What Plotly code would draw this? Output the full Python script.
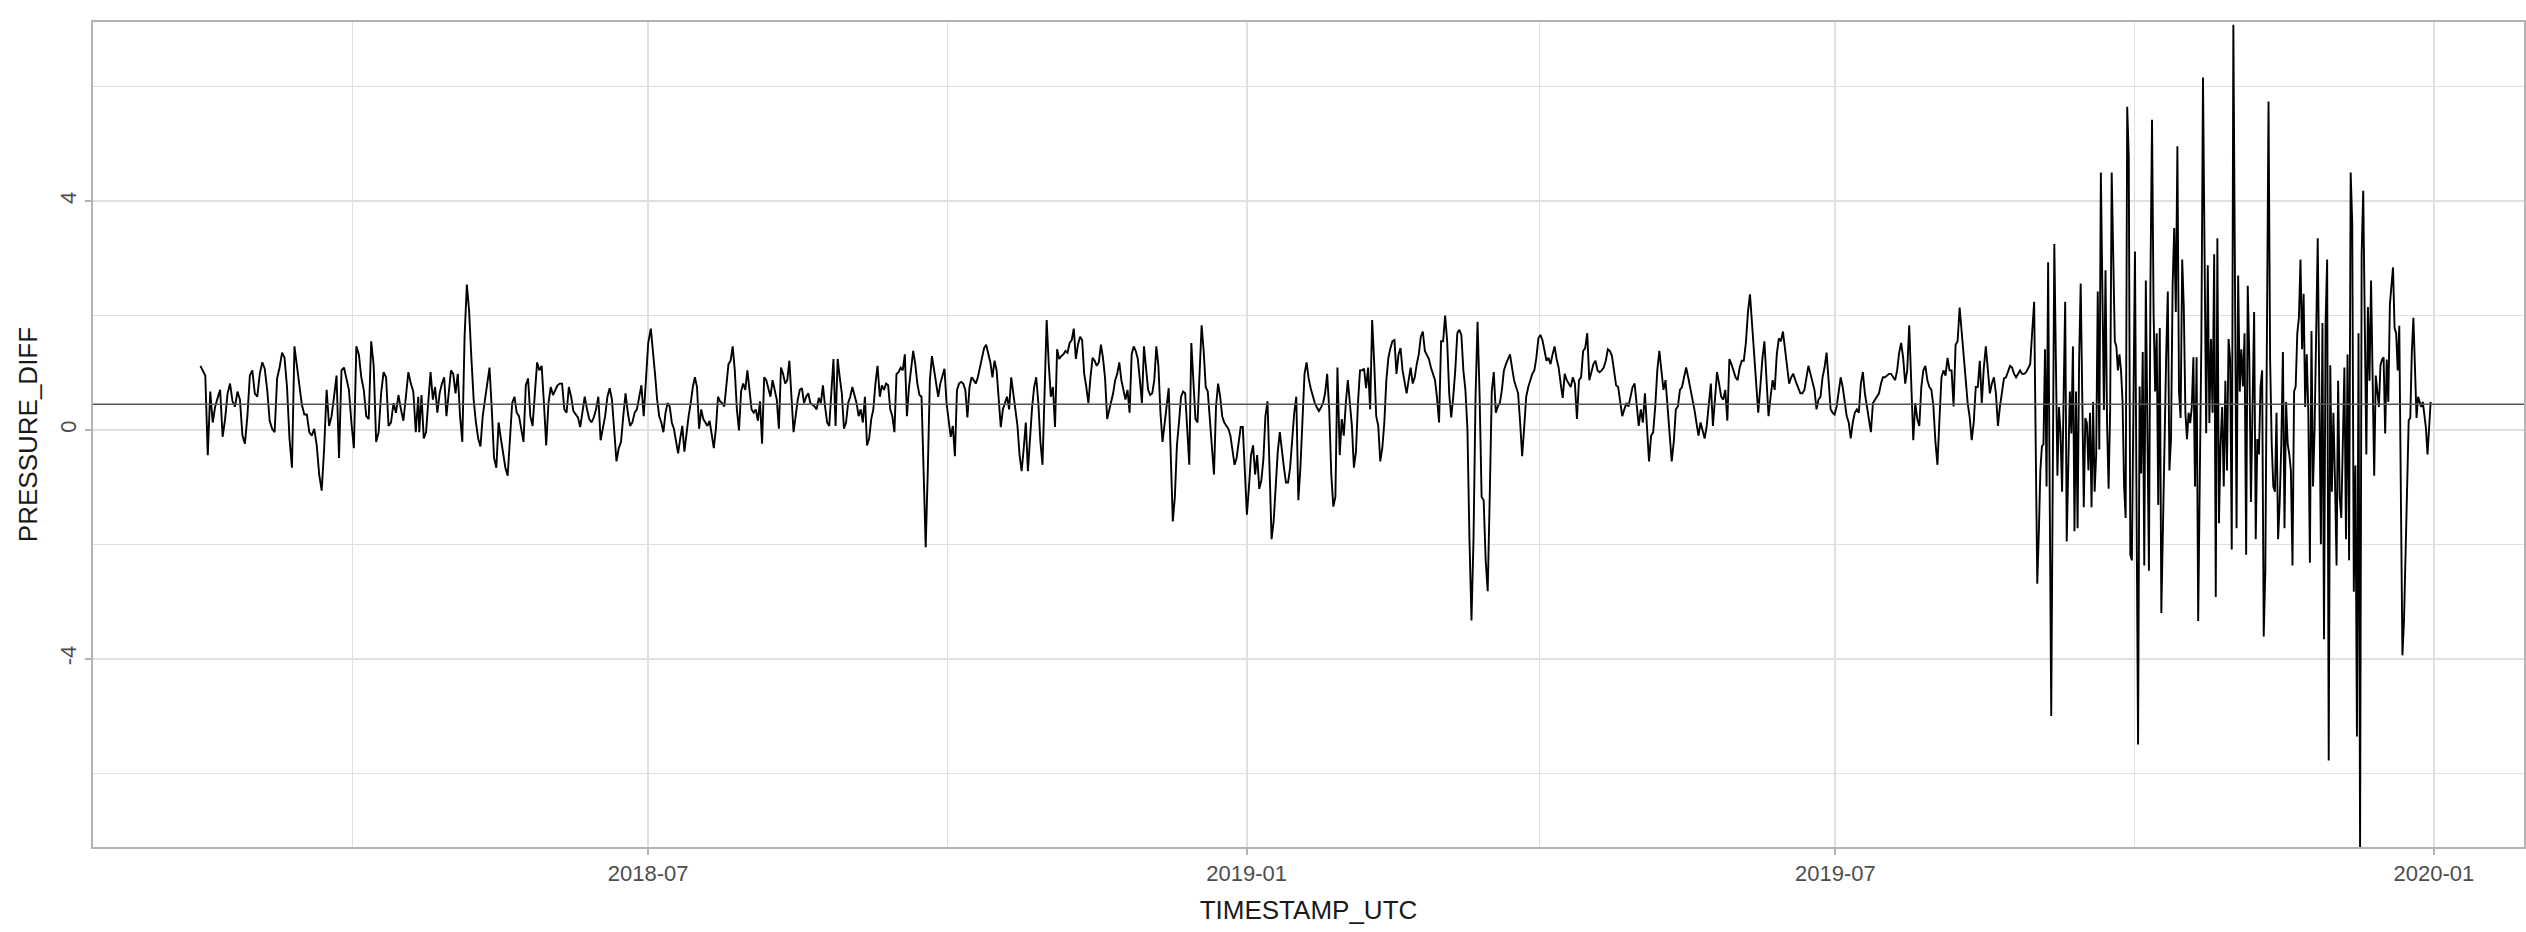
import numpy as np
import pandas as pd
import plotly.graph_objects as go

# ---- data ----
BASE_DATE = "2018-07-01"  # day offsets below are relative to this date

seg1_days = (-137.7, -70.7)
seg1 = [1.12, 1.04, 0.95, -0.44, 0.67, 0.13, 0.41, 0.56, 0.70, -0.12, 0.19, 0.64, 0.81, 0.50, 0.41, 0.67, 0.53, -0.10,
        -0.24, 0.24, 0.95, 1.04, 0.64, 0.58, 0.98, 1.18, 1.07, 0.70, 0.16, 0.02, -0.04, 0.90, 1.09, 1.35, 1.26, 0.75,
        -0.15, -0.66, 1.46, 1.12, 0.81, 0.44, 0.27, 0.27, -0.04, -0.10, 0.02, -0.27, -0.78, -1.06, -0.32, 0.70, 0.07,
        0.24, 0.58, 0.95, -0.49, 1.04, 1.09, 0.92, 0.70, 0.13, -0.32, 1.46, 1.32, 0.92, 0.70, 0.24, 0.19, 1.55, 1.12,
        -0.21, -0.04, 0.64, 1.01, 0.92, 0.07, 0.13, 0.47, 0.30, 0.61, 0.36, 0.16, 0.58, 1.01, 0.81, 0.67, -0.04, 0.58]

seg2_days = (-70.4, 0.0)
seg2 = [-0.04, 0.61, -0.15, -0.04, 0.50, 1.01, 0.53, 0.75, 0.30, 0.64, 0.81, 0.92, 0.24, 0.64, 1.04, 0.98, 0.64, 0.98,
        0.24, -0.21, 1.63, 2.54, 2.08, 1.26, 0.53, 0.13, -0.15, -0.29, 0.24, 0.53, 0.78, 1.09, 0.36, -0.49, -0.66, 0.13,
        -0.15, -0.44, -0.66, -0.80, -0.10, 0.47, 0.58, 0.30, 0.24, 0.02, -0.21, 0.78, 0.90, 0.24, 0.07, 0.64, 1.18,
        1.04, 1.12, 0.47, -0.27, 0.47, 0.75, 0.61, 0.70, 0.78, 0.81, 0.81, 0.36, 0.30, 0.75, 0.58, 0.33, 0.27, 0.22,
        0.05, 0.30, 0.58, 0.36, 0.19, 0.13, 0.22, 0.36, 0.58, -0.18, 0.02, 0.24, 0.58, 0.73, 0.53, -0.10, -0.55, -0.32,
        -0.21, 0.24, 0.64, 0.30, 0.07, 0.13, 0.30, 0.36, 0.58, 0.78, 0.24, 0.98, 1.52]

seg3_days = (0.8, 70.5)
seg3 = [1.77, 1.41, 0.98, 0.53, 0.24, 0.13, -0.04, 0.30, 0.47, 0.41, 0.13, 0.02, -0.21, -0.41, -0.15, 0.07, -0.38,
        -0.04, 0.24, 0.47, 0.75, 0.92, 0.75, 0.02, 0.36, 0.19, 0.13, 0.07, 0.16, -0.10, -0.32, 0.02, 0.58, 0.50, 0.47,
        0.41, 0.75, 1.15, 1.21, 1.46, 1.04, 0.36, -0.01, 0.67, 0.81, 0.70, 1.04, 0.64, 0.36, 0.30, 0.36, 0.16, 0.50,
        -0.24, 0.92, 0.87, 0.73, 0.58, 0.87, 0.70, 0.53, 0.02, 1.09, 0.98, 0.81, 0.87, 1.21, 0.58, -0.04, 0.24, 0.53,
        0.70, 0.73, 0.47, 0.58, 0.64, 0.47, 0.44, 0.41, 0.36, 0.56, 0.47, 0.78, 0.41, 0.13, 0.07, 0.58, 1.24, 0.07,
        1.24, 0.92, 0.64, 0.02, 0.13, 0.47, 0.58, 0.75, 0.61, 0.47, 0.24, 0.36, 0.13, 0.58, -0.27, -0.15, 0.19, 0.36,
        0.81, 1.12]

seg4_days = (71.2, 141.1)
seg4 = [0.58, 0.78, 0.70, 0.81, 0.78, 0.36, 0.24, -0.04, 0.98, 1.01, 1.09, 1.04, 1.32, 0.24, 0.75, 1.04, 1.38, 1.15,
        0.81, 0.61, 0.58, -0.72, -2.05, -0.72, 0.87, 1.29, 1.04, 0.87, 0.58, 0.81, 0.92, 1.07, 0.47, 0.13, -0.12, 0.07,
        -0.46, 0.70, 0.81, 0.84, 0.81, 0.70, 0.22, 0.75, 0.92, 0.87, 0.81, 0.92, 1.09, 1.24, 1.43, 1.49, 1.35, 1.18,
        0.92, 1.21, 1.04, 0.53, 0.05, 0.36, 0.47, 0.58, 0.36, 0.92, 0.64, 0.36, 0.07, -0.44, -0.72, -0.32, 0.13, -0.72,
        -0.15, 0.39, 0.75, 0.92, 0.47, -0.21, -0.61, 0.64, 1.92, 1.15, 0.58, 0.75, 0.05, 1.41, 1.24, 1.29, 1.32, 1.38,
        1.35, 1.52, 1.57, 1.77, 1.24, 1.49, 1.63, 1.57, 0.98, 0.75, 0.47, 0.92, 1.26, 1.21, 1.12, 1.18, 1.49, 1.26,
        0.90, 0.19]

seg5_days = (142.3, 211.9)
seg5 = [0.47, 0.64, 0.87, 0.98, 1.18, 0.87, 0.70, 0.53, 0.70, 0.30, 1.32, 1.46, 1.38, 1.24, 0.87, 0.47, 1.46, 1.09,
        0.70, 0.61, 0.64, 0.87, 1.46, 1.12, 0.30, -0.21, 0.13, 0.47, 0.73, -0.44, -1.60, -1.17, -0.27, 0.13, 0.58,
        0.67, 0.64, 0.02, -0.61, 1.52, 0.75, 0.19, 0.13, 1.01, 1.83, 1.38, 0.75, 0.67, 0.19, -0.44, -0.78, 0.41, 0.81,
        0.58, 0.24, 0.13, 0.07, 0.02, -0.10, -0.41, -0.61, -0.49, -0.21, 0.05, 0.05, -0.75, -1.48, -1.00, -0.44, -0.27,
        -0.78, -0.44, -1.03, -0.89, -0.52, 0.24, 0.50, -0.66, -1.91, -1.60, -1.00, -0.38, -0.04, -0.38, -0.66, -0.92,
        -0.92, -0.66, -0.21, 0.30, 0.58, -1.23, -0.66, 0.30, 0.98, 1.18, 0.90, 0.73, 0.58, 0.47, 0.39, 0.33, 0.39,
        0.47, 0.64, 0.98, 0.36, -0.78, -1.34, -1.17, 1.09]

seg6_days = (212.6, 282.4)
seg6 = [-0.44, 0.19, -0.10, 0.47, 0.87, 0.47, 0.07, -0.66, -0.38, 0.47, 1.04, 1.04, 1.07, 0.73, 1.09, 0.36, 1.92,
        1.18, 0.24, 0.07, -0.55, -0.32, 0.13, 0.87, 1.26, 1.43, 1.55, 1.57, 0.98, 1.32, 1.43, 1.04, 0.81, 0.64, 0.87,
        1.09, 0.81, 0.92, 1.15, 1.32, 1.63, 1.72, 1.38, 1.32, 1.24, 1.09, 0.98, 0.87, 0.56, 0.13, 1.55, 1.55, 2.00,
        1.55, 0.64, 0.22, 0.58, 1.04, 1.69, 1.75, 1.66, 1.04, 0.70, 0.02, -1.91, -3.33, -1.91, 0.58, 1.89, 0.61, -1.17,
        -1.23, -2.28, -2.82, -1.17, 0.67, 1.01, 0.30, 0.41, 0.47, 0.70, 1.04, 1.15, 1.24, 1.32, 1.09, 0.87, 0.75, 0.64,
        0.13, -0.46, 0.05, 0.58, 0.75, 0.87, 0.98, 1.04, 1.26, 1.60, 1.66, 1.57, 1.38, 1.21, 1.26, 1.15, 1.32, 1.46,
        1.24, 1.09, 0.81, 0.56, 0.98, 0.87]

seg7_days = (283.0, 353.3)
seg7 = [0.81, 0.75, 0.92, 0.81, 0.19, 0.87, 0.92, 1.38, 1.43, 1.69, 0.87, 1.04, 1.15, 1.21, 1.04, 1.01, 1.04, 1.09,
        1.21, 1.41, 1.38, 1.29, 1.04, 0.78, 0.75, 0.47, 0.24, 0.36, 0.47, 0.41, 0.58, 0.75, 0.81, 0.47, 0.07, 0.36,
        0.13, 0.64, 0.02, -0.55, -0.10, -0.04, 0.41, 1.04, 1.38, 1.04, 0.70, 0.87, 0.41, -0.04, -0.55, -0.21, 0.36,
        0.41, 0.70, 0.75, 0.92, 1.09, 0.92, 0.75, 0.58, 0.36, 0.13, -0.10, 0.13, -0.04, -0.15, 0.07, 0.47, 0.81, 0.07,
        0.64, 1.01, 0.81, 0.58, 0.53, 0.70, 0.16, 1.24, 1.15, 1.04, 0.92, 0.87, 1.09, 1.21, 1.21, 1.52, 2.06, 2.37,
        1.88, 1.43, 0.92, 0.30, 0.75, 1.24, 1.55, 0.87, 0.24, 0.58, 0.87, 0.70, 1.32, 1.60, 1.55, 1.72, 1.38, 1.09,
        0.81, 0.92, 0.98, 0.87, 0.75]

seg8_days = (353.6, 425.5)
seg8 = [0.73, 0.64, 0.64, 0.70, 0.92, 1.12, 0.98, 0.81, 0.70, 0.36, 0.53, 0.58, 0.92, 1.09, 1.35, 0.87, 0.36, 0.30,
        0.27, 0.41, 0.70, 0.92, 0.75, 0.47, 0.24, 0.13, -0.15, 0.13, 0.30, 0.36, 0.30, 0.81, 1.01, 0.64, 0.41, 0.13,
        -0.04, 0.47, 0.53, 0.58, 0.64, 0.81, 0.92, 0.92, 0.95, 0.98, 0.98, 0.92, 0.87, 1.04, 1.35, 1.52, 1.26, 0.81,
        1.04, 1.83, 0.81, -0.18, 0.47, 0.19, 0.07, 0.75, 1.04, 1.12, 0.87, 0.75, 0.70, 0.41, -0.21, -0.61, 0.19, 0.92,
        1.04, 0.95, 1.26, 1.04, 1.04, 0.41, 1.49, 1.55, 2.14, 1.69, 1.21, 0.81, 0.47, 0.22, -0.18, 0.13, 0.75, 0.75,
        1.21, 0.47, 1.09, 1.46, 1.09, 0.64, 0.81, 0.92, 0.64, 0.07, 0.41, 0.70, 0.90, 0.92, 1.04, 1.12, 1.09, 0.98,
        0.92, 0.98, 1.04, 0.98, 0.98, 1.01, 1.09, 1.15, 1.72]

seg9_days = (426.1, 465.2)
seg9 = [2.24, -0.25, -2.69, -1.82, -0.71, -0.29, -0.25, 1.41, -0.99, 2.93, -0.80, -5.00, -0.80, 3.25, 1.23, -0.80,
        0.40, -0.06, -1.08, 0.86, 2.24, -1.95, -0.62, 0.67, -0.06, 1.46, -1.77, 0.67, -1.72, 1.23, 2.56, 0.86, -1.35,
        0.21, 0.12, -0.71, 0.30, -1.35, 0.49, -1.08, -0.43, 2.42, -0.34, 4.50, 2.38, 0.35, 2.79, 0.12, -1.03, 0.35,
        4.50, 2.61, 1.55, 1.46, 1.04, 1.32, 1.04, 0.49, -0.99, -1.54, 5.65, 4.77, -2.18, -2.28, 0.30, 3.12, -1.22,
        -5.50, 0.76, -0.76, 1.36, -2.37, 2.61, 0.03, -2.46, 2.65, 5.42, 2.06, 0.67, 1.69, -1.31, 1.78, -3.20]

seg10_days = (466.7, 507.0)
seg10 = [1.32, 2.42, -0.71, -0.16, 2.52, 3.53, 2.06, 4.96, 0.67, 0.21, 2.98, 2.15, 0.30, -0.16, 0.30, 0.12, 0.40,
         1.27, -0.99, 1.27, -3.34, -0.99, 1.59, 6.16, 2.98, -0.06, 2.88, 0.12, 1.59, 0.30, 3.07, -2.92, 3.35, -1.63,
         -0.25, 0.40, -0.99, 0.86, -0.71, 1.59, 1.23, -2.09, 7.08, 3.07, -1.72, 2.70, 0.67, 1.41, 0.76, 1.69, -2.18,
         2.52, 1.23, -1.26, 0.40, 2.06, -1.91, -0.16, -0.43, 0.76, 1.04, -3.61, -2.46, 2.15, 5.74, 1.23, -0.25, -0.99,
         -1.08, 0.30, -1.91, -1.26, -0.25, 1.36, -1.72, 0.49, -0.25, -0.43, -0.71, -2.37, 0.67, 0.76, 1.69]

seg11_days = (507.5, 548.0)
seg11 = [1.96, 2.98, 1.41, 2.38, 0.40, 1.32, 0.30, -2.32, 1.73, -0.99, 0.03, 1.59, 3.35, 0.67, -2.00, 1.87, -3.66,
         1.87, 2.98, -5.78, 1.13, -1.08, 0.30, -0.89, -2.37, 0.86, -1.17, -1.54, -0.16, 1.09, -1.91, 1.32, -2.28, 4.50,
         3.62, -2.83, -0.62, -5.36, 1.69, -7.30, 3.07, 4.18, 1.87, -0.43, 2.15, 0.86, 2.61, 0.86, -0.80, 0.95, 0.67,
         0.40, 1.13, 1.23, 1.27, -0.06, 1.23, 0.49, 2.19, 2.52, 2.84, 1.78, 1.69, 1.04, 1.82, -1.08, -3.94, -3.34,
         -2.09, -0.99, 0.17, 0.21, 1.36, 1.96, 1.04, 0.21, 0.58, 0.49, 0.40, 0.49, 0.30, 0.03, -0.43, 0.12, 0.49]

MEAN_LINE = 0.45

x_tick_vals = ["2018-07-01", "2019-01-01", "2019-07-01", "2020-01-01"]
x_tick_text = ["2018-07", "2019-01", "2019-07", "2020-01"]
y_tick_vals = [-4, 0, 4]
y_tick_text = ["-4", "0", "4"]

segments = [(seg1_days, seg1), (seg2_days, seg2), (seg3_days, seg3), (seg4_days, seg4),
            (seg5_days, seg5), (seg6_days, seg6), (seg7_days, seg7), (seg8_days, seg8),
            (seg9_days, seg9), (seg10_days, seg10), (seg11_days, seg11)]

base = pd.Timestamp(BASE_DATE)
times, values = [], []
for (d0, d1), vals in segments:
    offs = np.linspace(d0, d1, len(vals))
    times.extend(base + pd.to_timedelta(offs, unit="D"))
    values.extend(vals)

df = pd.DataFrame({"TIMESTAMP_UTC": times, "PRESSURE_DIFF": values})

# ---- figure ----
GRID = "#e0e0e0"
BORDER = "#b3b3b3"
FONT = "Liberation Sans, Arial, sans-serif"

fig = go.Figure()
fig.add_trace(go.Scatter(x=df["TIMESTAMP_UTC"], y=df["PRESSURE_DIFF"], mode="lines",
                         line=dict(color="black", width=1.9), showlegend=False))
fig.add_hline(y=MEAN_LINE, line=dict(color="#555555", width=1.5), layer="above")

x_range = [base + pd.Timedelta(days=-170.7), base + pd.Timedelta(days=576.7)]

fig.update_layout(
    width=2526, height=932,
    margin=dict(l=93, r=2, t=22, b=85),
    paper_bgcolor="white", plot_bgcolor="white",
    font=dict(family=FONT, color="#4d4d4d", size=22),
    xaxis=dict(
        range=x_range, type="date", automargin=False,
        tickmode="array", tickvals=x_tick_vals, ticktext=x_tick_text,
        showgrid=True, gridcolor=GRID, gridwidth=1.6,
        minor=dict(showgrid=True, gridcolor=GRID, gridwidth=1.2, dtick="M3", tick0="2018-01-01"),
        ticks="outside", ticklen=6, tickwidth=1.5, tickcolor=BORDER,
        showline=True, linecolor=BORDER, linewidth=1.6, mirror=True,
        zeroline=False,
        tickfont=dict(size=22, color="#4d4d4d"),
        title=dict(text="TIMESTAMP_UTC", font=dict(size=26, color="#1a1a1a"), standoff=16),
    ),
    yaxis=dict(
        range=[-7.29, 7.13], automargin=False,
        tickmode="array", tickvals=y_tick_vals, ticktext=y_tick_text, tickangle=-90,
        showgrid=True, gridcolor=GRID, gridwidth=1.6,
        minor=dict(showgrid=True, gridcolor=GRID, gridwidth=1.2, dtick=2, tick0=0),
        ticks="outside", ticklen=6, tickwidth=1.5, tickcolor=BORDER,
        showline=True, linecolor=BORDER, linewidth=1.6, mirror=True,
        zeroline=False,
        tickfont=dict(size=22, color="#4d4d4d"),
        title=dict(text="PRESSURE_DIFF", font=dict(size=26, color="#1a1a1a"), standoff=11),
    ),
)

fig.write_html("out.html", config={"displayModeBar": False},
               post_script="document.body.style.margin='0';")
